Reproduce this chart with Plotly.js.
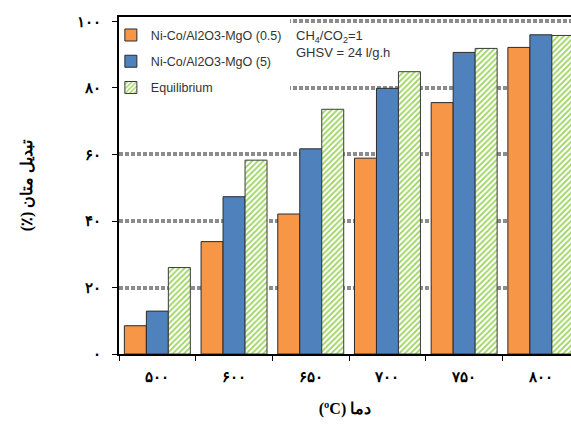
<!DOCTYPE html>
<html>
<head>
<meta charset="utf-8">
<script src="https://cdn.plot.ly/plotly-3.0.1.min.js"></script>
<style>html,body{margin:0;padding:0;background:#fff;}#chart{width:571px;height:428px;}</style>
</head>
<body>
<div id="chart"></div>
<script>
// Categories (temperature, °C) as Persian digits
const categories = ['۵۰۰', '۶۰۰', '۶۵۰', '۷۰۰', '۷۵۰', '۸۰۰'];
// Methane conversion (%)
const seriesNames = ['Ni-Co/Al2O3-MgO (0.5)', 'Ni-Co/Al2O3-MgO (5)', 'Equilibrium'];
const conv05 = [8.5, 33.8, 42.1, 58.9, 75.6, 92.2];
const conv5 = [12.9, 47.3, 61.7, 79.9, 90.7, 96.0];
const equilibrium = [26.0, 58.3, 73.6, 84.9, 91.9, 95.8];
const yTickVals = [0, 20, 40, 60, 80, 100];
const yTickText = ['۰', '۲۰', '۴۰', '۶۰', '۸۰', '۱۰۰'];
const RLM = '\u200F';
const RLE = '\u202B', PDF = '\u202C';

const lineStyle = {color: '#2b2b2b', width: 1};
const traces = [
  {type: 'bar', name: seriesNames[0], x: categories, y: conv05, legendgroup: 'a',
   marker: {color: '#f79646', line: lineStyle}},
  {type: 'bar', name: seriesNames[1], x: categories, y: conv5, legendgroup: 'b',
   marker: {color: '#4f81bd', line: lineStyle}},
  {type: 'bar', name: seriesNames[2], x: categories, y: equilibrium, legendgroup: 'c',
   marker: {color: '#ffffff', line: {color: '#3a3a3a', width: 1},
            pattern: {shape: '/', fgcolor: '#9ad45a', bgcolor: '#ffffff', size: 4, solidity: 0.45, fillmode: 'replace'}}}
];

const layout = {
  width: 571, height: 428,
  margin: {l: 119, r: 0, t: 17, b: 74},
  paper_bgcolor: '#ffffff', plot_bgcolor: '#ffffff',
  barmode: 'group', bargap: 0.14, bargroupgap: 0,
  showlegend: true,
  legend: {x: -0.018, xanchor: 'left', y: 0.99, yanchor: 'top', bgcolor: 'rgba(0,0,0,0)',
           font: {family: 'Liberation Sans, Arial', size: 12.5, color: '#333'},
           tracegroupgap: 7, itemclick: false},
  xaxis: {type: 'category', range: [-0.5, 5.393], showline: true, linecolor: '#000', linewidth: 2,
          mirror: true, ticks: 'outside', tickson: 'boundaries', ticklen: 5, tickcolor: '#000', tickwidth: 1,
          showgrid: false, ticklabelstandoff: 8,
          tickfont: {family: 'Liberation Serif, DejaVu Serif, serif', size: 15, color: '#000', weight: 'bold'},
          title: {text: RLE + 'دما (ºC)' + PDF, standoff: 19,
                  font: {family: 'Liberation Serif, DejaVu Serif, serif', size: 16, color: '#000', weight: 'bold'}},
          automargin: false, fixedrange: true},
  yaxis: {range: [0, 101.35], showline: true, linecolor: '#000', linewidth: 2, zeroline: false,
          ticks: 'outside', ticklen: 5, tickcolor: '#000', tickwidth: 1,
          tickvals: yTickVals, ticktext: yTickText, ticklabelstandoff: 8,
          tickfont: {family: 'Liberation Serif, DejaVu Serif, serif', size: 15, color: '#000', weight: 'bold'},
          showgrid: true, gridcolor: '#8c8c8c', gridwidth: 4, griddash: '4px,2px',
          title: {text: RLM + 'تبدیل متان (٪)' + RLM, standoff: 40,
                  font: {family: 'Liberation Serif, DejaVu Serif, serif', size: 16, color: '#000', weight: 'bold'}},
          automargin: false, fixedrange: true},
  shapes: [
    {type: 'rect', xref: 'x', yref: 'y', layer: 'between', x0: -0.5, x1: 1.73, y0: 74, y1: 101.35,
     fillcolor: '#ffffff', line: {width: 0}}
  ],
  annotations: [
    {xref: 'paper', yref: 'paper', x: 0.387, y: 0.972, xanchor: 'left', yanchor: 'top', align: 'left', showarrow: false,
     text: 'CH<sub>4</sub>/CO<sub>2</sub>=1<br>GHSV = 24 l/g.h',
     font: {family: 'Liberation Sans, Arial', size: 13, color: '#333'}}
  ]
};

Plotly.newPlot('chart', traces, layout, {displayModeBar: false, staticPlot: true});
</script>
</body>
</html>
